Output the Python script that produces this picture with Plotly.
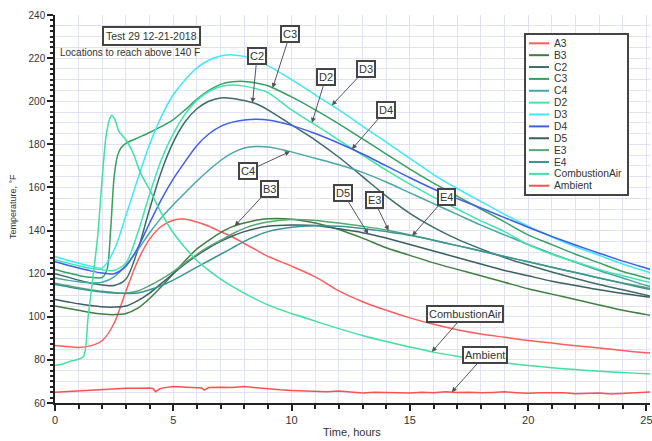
import numpy as np
import plotly.graph_objects as go

# ---------------- data ----------------
T_MAIN = [0, 0.5, 1, 1.5, 2, 2.5, 3, 3.5, 4, 4.5, 5, 5.5, 6, 6.5, 7, 7.5, 8, 8.5, 9,
          10, 11, 12, 13, 14, 15, 16, 17, 18, 19, 20, 21, 22, 23, 24, 25, 25.3]

A3 = [86.7, 86.2, 85.8, 86.5, 89, 97, 112, 126, 136, 142, 144.8, 145.3, 144, 142, 139.5, 137, 134, 131, 128,
      123.5, 118.5, 112, 107, 103, 99.5, 96.5, 94, 92, 90.5, 89, 87.8, 86.6, 85.5, 84.3, 83.3, 83]
B3 = [105, 104, 103, 102, 101.3, 101, 101.5, 104, 108.5, 114, 120, 126, 131.5, 135.5, 139, 141.8, 143.5, 144.8, 145.5,
      145.3, 143.5, 140.5, 136.5, 132, 128.5, 125, 122, 119, 116, 113, 110.5, 108, 105.5, 103, 101, 100.5]
C2 = [120, 118.5, 117, 115.7, 114.8, 114.5, 117.5, 131, 150, 167.5, 181, 190.5, 196.5, 200, 201.5, 201.3, 200.3, 198.8, 196,
      189, 182, 174, 165, 156, 148, 141.5, 136, 131.5, 127.5, 124, 120.8, 117.8, 115, 112.5, 110, 109.3]
C4 = [118, 117, 116.2, 115.7, 116, 118.5, 124, 131, 139, 146, 152, 157.5, 163, 168, 172.5, 176, 178.3, 179, 178.8,
      176.5, 173.5, 170.5, 167, 162.5, 157.5, 152.5, 147.5, 142.5, 138, 133.5, 129.3, 125.3, 121.5, 118, 114.5, 113.6]
D2 = [126.5, 125, 123.7, 122.5, 121.8, 121.5, 125, 139, 157, 173, 185, 194, 200.5, 204.5, 206.8, 207.5, 207, 205.8, 204,
      196, 189, 182, 175, 168, 161.5, 155.5, 150, 144.5, 139.5, 133.5, 129, 125.5, 122, 119, 116.3, 115.6]
D3 = [128, 126.3, 124.8, 123.5, 122.7, 131, 147, 164, 180, 193, 203, 210, 215.5, 219, 221, 221.5, 220.8, 219, 216.5,
      210, 203, 196, 188.5, 181, 173.5, 166, 159.5, 153.5, 147.5, 142, 137, 132.5, 128.5, 124.5, 121, 120.2]
D4 = [125.5, 124, 122.6, 121.3, 120.3, 120, 123.5, 132, 143.5, 154.5, 164, 172, 179.5, 184.8, 188.3, 190.3, 191.3, 191.6, 191.3,
      188.8, 185, 180.5, 175.5, 170, 164.5, 159.3, 154.8, 150.5, 146, 141.5, 137.3, 133.3, 129.5, 125.8, 122.5, 121.5]
D5 = [108, 107, 106, 105.2, 104.6, 104.5, 105, 107.5, 111, 115.5, 120, 124.5, 128.5, 132, 135, 137.5, 139.5, 141, 142,
      142.6, 142.3, 140.8, 139, 136.5, 133.5, 130.5, 127.5, 124.5, 121.5, 119, 116.5, 114.5, 112.5, 110.8, 109.3, 109]
E3 = [115.6, 114.5, 113.5, 112.6, 111.8, 111.2, 111, 112, 114.5, 117.5, 121, 125, 129, 132.5, 135.5, 138.5, 141, 142.8, 144,
      145.1, 144.7, 143.5, 142, 140.3, 138, 135.5, 133, 130.5, 128, 125.5, 123, 120.5, 118, 115.7, 113.5, 113]
E4 = [115, 114, 113, 112.2, 111.5, 111, 110.8, 111, 112.5, 114.5, 117, 120, 123, 126, 129, 132, 135, 137.5, 139.5,
      141.5, 142.2, 142, 141, 139.5, 137.8, 135.5, 133, 130.5, 128, 125.5, 123, 120.5, 118, 115.5, 113, 112.5]

T_C3 = [0, 0.5, 1, 1.5, 2, 2.2, 2.35, 2.5, 2.65, 2.8, 3, 3.5, 4, 4.5, 5, 5.5, 6, 6.5, 7, 7.5, 8, 8.5, 9,
        10, 11, 12, 13, 14, 15, 16, 17, 18, 19, 20, 21, 22, 23, 24, 25, 25.3]
C3 = [122, 120.5, 119.2, 118.3, 118.3, 122, 140, 165, 175, 178.5, 180.5, 183, 185.5, 188.3, 191.5, 196, 201, 205, 207.8, 209, 209.2, 208.5, 207.2,
      202, 196, 189.5, 182.5, 175.5, 168.5, 162, 156, 150, 144, 138, 133.5, 129, 125, 121, 118, 117.2]

T_CA = [0, 0.3, 0.6, 0.9, 1.2, 1.4, 1.6, 1.8, 2.0, 2.15, 2.3, 2.4, 2.55, 2.7, 2.85, 3.0, 3.3, 3.6, 4.0, 4.5, 5, 5.5, 6, 6.5, 7,
        8, 9, 10, 11, 12, 13, 14, 15, 16, 17, 18, 19, 20, 21, 22, 23, 24, 25, 25.3]
COMBUSTION_AIR = [77.5, 78, 79.2, 80, 81.5, 100, 118, 137, 165, 183, 191.5, 193.5, 191, 186, 184, 182, 176, 167, 159, 148, 139, 132, 126, 121.5, 117.5,
                  111, 105.5, 101.5, 98, 94.5, 91.3, 88.5, 86, 83.6, 81.7, 80, 78.6, 77.4, 76.4, 75.5, 74.7, 74.1, 73.6, 73.5]

T_AMB = [0, 0.5, 1, 1.5, 2, 2.5, 3, 3.5, 4, 4.15, 4.25, 4.4, 4.5, 5, 5.5, 6, 6.2, 6.3, 6.45, 6.5, 7, 7.5, 8, 8.5, 9, 9.5,
         10, 10.5, 11, 11.5, 12, 12.5, 13, 13.5, 14, 14.5, 15, 15.5, 16, 16.5, 17, 17.5, 18, 18.5, 19, 19.5,
         20, 20.5, 21, 21.5, 22, 22.5, 23, 23.5, 24, 24.5, 25, 25.3]
AMBIENT = [65.0, 65.3, 65.6, 66.1, 66.3, 66.6, 66.8, 66.9, 67.0, 66.6, 65.2, 66.4, 66.9, 67.6, 67.4, 67.3, 67.0, 66.0, 66.9, 67.2, 67.3, 67.2, 67.6, 67.0, 66.5, 66.1,
           65.8, 65.5, 65.3, 65.2, 65.6, 65.1, 64.6, 65.0, 64.8, 64.9, 64.6, 65.0, 64.8, 65.2, 64.9, 65.0, 64.7, 64.9, 65.2, 64.8,
           64.5, 64.7, 64.6, 64.8, 64.3, 64.4, 64.6, 64.2, 64.5, 64.8, 65.0, 65.2]

NAMES = ["A3", "B3", "C2", "C3", "C4", "D2", "D3", "D4", "D5", "E3", "E4", "CombustionAir", "Ambient"]
TIMES = [T_MAIN, T_MAIN, T_MAIN, T_C3, T_MAIN, T_MAIN, T_MAIN, T_MAIN, T_MAIN, T_MAIN, T_MAIN, T_CA, T_AMB]
VALUES = [A3, B3, C2, C3, C4, D2, D3, D4, D5, E3, E4, COMBUSTION_AIR, AMBIENT]
COLORS = ["#ff5c5c", "#3f7f3f", "#3d6b68", "#35a060", "#4aa6a6", "#3ee6aa", "#3ee8f6", "#3f5fe6",
          "#3a5f5f", "#5aa672", "#3a9696", "#40e0a0", "#ff5050"]

# label annotations: (text, series, time on series)
LABELS = [("C3", "C3", 9.2), ("C2", "C2", 8.35), ("D2", "D2", 10.86), ("D3", "D3", 11.7),
          ("D4", "D4", 12.55), ("C4", "C4", 9.93), ("B3", "B3", 7.6), ("D5", "D5", 13.24),
          ("E3", "E3", 14.1), ("E4", "E4", 15.1), ("CombustionAir", "CombustionAir", 15.93),
          ("Ambient", "Ambient", 16.77)]
LABEL_BOX_PX = [(290, 34), (257, 56), (326, 77), (366, 69), (386, 110), (248, 171), (269, 189),
                (343, 193), (374, 200), (446, 197), (465, 314), (485, 355)]

# ---------------- layout geometry ----------------
W, H = 652, 441
L, R, TOP, BOT = 55, 650, 15, 403
XR = [0, 25.15]
YR = [60, 240]


def px2x(px):
    return XR[0] + (px - L) / (R - L) * (XR[1] - XR[0])


def px2y(py):
    return YR[1] - (py - TOP) / (BOT - TOP) * (YR[1] - YR[0])


def pxp_x(px):
    return (px - L) / (R - L)


def pxp_y(py):
    return (BOT - py) / (BOT - TOP)


FONT = "Liberation Sans, Arial, sans-serif"
fig = go.Figure()

for name, t, v, c in zip(NAMES, TIMES, VALUES, COLORS):
    shape = "linear" if name == "Ambient" else "spline"
    fig.add_trace(go.Scatter(x=t, y=v, mode="lines", name=name,
                             line=dict(color=c, width=1.5, shape=shape, smoothing=0.8),
                             showlegend=False))

# helper trace for the 5-degree grid axis
fig.add_trace(go.Scatter(x=[None], y=[None], yaxis="y2", showlegend=False, hoverinfo="skip"))

GRID = "#e0e0f7"
fig.update_layout(
    width=W, height=H,
    margin=dict(l=L, r=W - R, t=TOP, b=H - BOT, autoexpand=False),
    paper_bgcolor="white", plot_bgcolor="white",
    font=dict(family=FONT, size=11, color="#333"),
    xaxis=dict(range=XR, dtick=5, tick0=0, showgrid=True, gridcolor=GRID, gridwidth=1,
               ticks="outside", ticklen=6, tickcolor="#222", tickwidth=1.5,
               showline=True, linecolor="#222", linewidth=1.5, zeroline=False, automargin=False,
               ticklabeloverflow="allow",
               minor=dict(dtick=1, ticks="outside", ticklen=4, tickcolor="#222", showgrid=True,
                          gridcolor=GRID, gridwidth=1),
               tickfont=dict(size=11, color="#333")),
    yaxis=dict(range=YR, dtick=20, tick0=0, showgrid=True, gridcolor=GRID, gridwidth=1,
               ticks="outside", ticklen=6, tickcolor="#222", tickwidth=1.5,
               showline=True, linecolor="#222", linewidth=1.5, zeroline=False, automargin=False,
               ticklabeloverflow="allow",
               minor=dict(dtick=2.5, ticks="outside", ticklen=3, tickcolor="#222", showgrid=False),
               tickfont=dict(size=10, color="#333")),
    yaxis2=dict(range=YR, overlaying="y", dtick=5, tick0=0, showgrid=True, gridcolor=GRID,
                showticklabels=False, ticks="", zeroline=False, showline=False, automargin=False),
    showlegend=False,
)

# ---------------- custom compact legend ----------------
shapes = [dict(type="rect", xref="paper", yref="paper",
               x0=pxp_x(525), x1=pxp_x(628), y0=pxp_y(195), y1=pxp_y(34),
               line=dict(color="#444", width=2), fillcolor="white", layer="above")]
annotations = []
for i, (name, c) in enumerate(zip(NAMES, COLORS)):
    yy = 43.3 + 11.87 * i
    shapes.append(dict(type="line", xref="paper", yref="paper",
                       x0=pxp_x(529), x1=pxp_x(549), y0=pxp_y(yy), y1=pxp_y(yy),
                       line=dict(color=c, width=2), layer="above"))
    annotations.append(dict(xref="paper", yref="paper", x=pxp_x(552), y=pxp_y(yy), text=name,
                            showarrow=False, xanchor="left", yanchor="middle",
                            font=dict(size=10.3, color="#333", family=FONT)))

# ---------------- label annotations with arrows ----------------
lookup = {n: (t, v) for n, t, v in zip(NAMES, TIMES, VALUES)}
for (text, series, tt), (bx, by) in zip(LABELS, LABEL_BOX_PX):
    t, v = lookup[series]
    yv = float(np.interp(tt, t, v))
    annotations.append(dict(x=tt, y=yv, xref="x", yref="y", text=text,
                            showarrow=True, arrowhead=2, arrowsize=1, arrowwidth=1, arrowcolor="#555",
                            axref="x", ayref="y", ax=px2x(bx), ay=px2y(by), standoff=0,
                            bordercolor="#444", borderwidth=2, borderpad=1, bgcolor="white",
                            font=dict(size=11, color="#333", family=FONT)))

annotations.append(dict(xref="paper", yref="paper", x=pxp_x(151), y=pxp_y(36), text="Test 29 12-21-2018",
                        showarrow=False, xanchor="center", yanchor="middle",
                        bordercolor="#444", borderwidth=2, borderpad=2, bgcolor="white",
                        font=dict(size=10.5, color="#333", family=FONT)))
annotations.append(dict(xref="paper", yref="paper", x=pxp_x(58), y=pxp_y(53),
                        text="Locations to reach above 140 F", showarrow=False,
                        xanchor="left", yanchor="middle", font=dict(size=10, color="#333", family=FONT)))
# axis titles
annotations.append(dict(xref="paper", yref="paper", x=pxp_x(352), y=pxp_y(432), text="Time, hours",
                        showarrow=False, xanchor="center", yanchor="middle",
                        font=dict(size=11, color="#333", family=FONT)))
annotations.append(dict(xref="paper", yref="paper", x=pxp_x(13), y=pxp_y(207), text="Temperature, °F",
                        showarrow=False, xanchor="center", yanchor="middle", textangle=-90,
                        font=dict(size=9, color="#333", family=FONT)))

fig.update_layout(shapes=shapes, annotations=annotations)
fig.write_html("out.html", config={"displayModeBar": False},
               post_script="document.body.style.margin='0px';document.body.style.overflow='hidden';")
